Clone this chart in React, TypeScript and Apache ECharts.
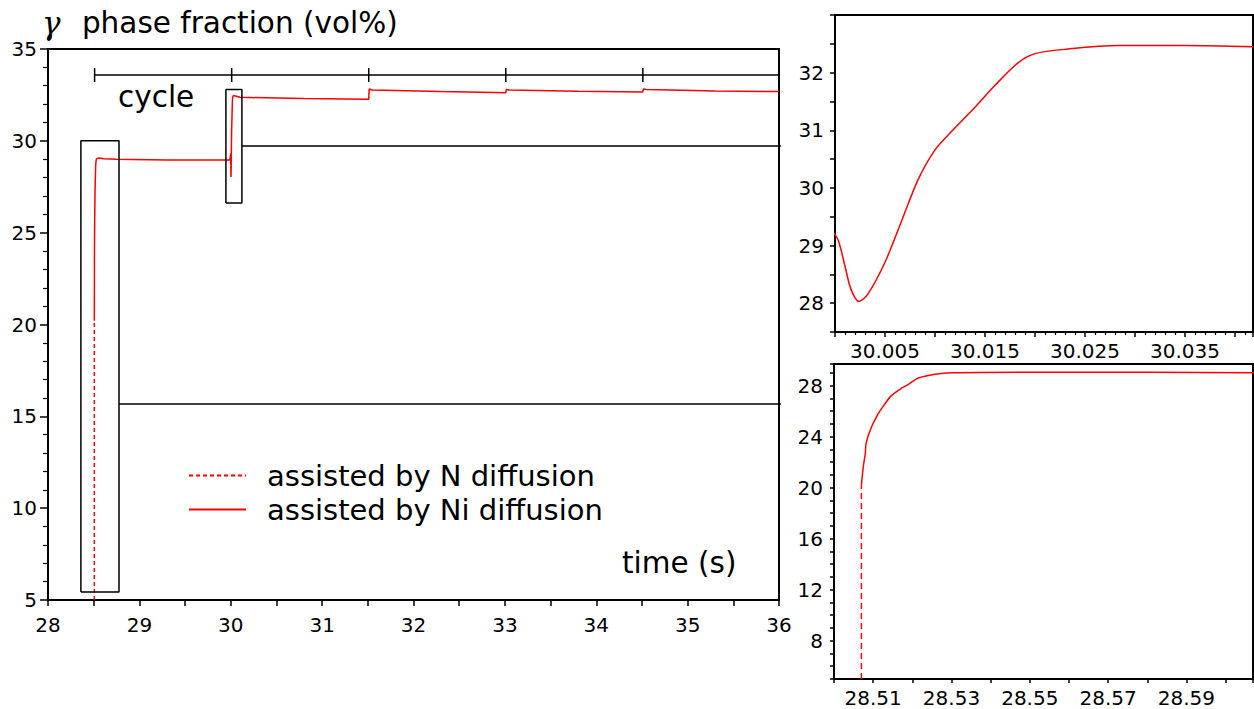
import { useEffect, useRef } from 'react';
import * as echarts from 'echarts';

// first cycle: N assisted start (dashed) then Ni assisted growth
const nStartTime = [28.507, 28.507];
const nStartValue = [5, 20.2];

const niFirstTime = [28.507, 28.5075, 28.508, 28.5082, 28.5095, 28.5113, 28.5126, 28.5146, 28.5172, 28.519, 28.5215, 28.5258, 28.53, 28.55, 28.58, 28.6066, 28.75, 29.3, 29.99];
const niFirstValue = [20.2, 21.7, 22.7, 23.5, 24.7, 25.8, 26.4, 27.2, 27.8, 28.1, 28.6, 28.9, 29.02, 29.06, 29.05, 29.02, 29.0, 28.96, 28.95];

// second cycle (zoomed in the upper inset)
const niSecondTime = [29.9995, 30.0003, 30.001, 30.0016, 30.0024, 30.0033, 30.005, 30.0066, 30.0083, 30.01, 30.0116, 30.014, 30.016, 30.0183, 30.02, 30.0233, 30.0283, 30.035, 30.0418];
const niSecondValue = [29.3, 29.1, 28.64, 28.24, 28.03, 28.16, 28.71, 29.4, 30.14, 30.66, 30.97, 31.4, 31.78, 32.17, 32.33, 32.41, 32.47, 32.47, 32.45];

// later cycles
const niLaterTime = [30.1, 30.8, 31.51, 31.515, 31.55, 32.3, 33.01, 33.015, 33.05, 33.8, 34.51, 34.515, 34.55, 35.3, 36];
const niLaterValue = [32.37, 32.3, 32.26, 32.82, 32.77, 32.68, 32.62, 32.8, 32.77, 32.7, 32.66, 32.82, 32.8, 32.72, 32.68];

// cycle scale
const cycleStarts = [28.51, 30.01, 31.51, 33.01, 34.51];
const cycleLevel = 33.58;
const cycleTickHalf = 0.38;

// zoom boxes and connector lines (main-plot data units)
const boxLeft = [28.36, 29.947];
const boxRight = [28.777, 30.122];
const boxBottom = [5.44, 26.62];
const boxTop = [30.0, 32.8];
const connectorY = [15.67, 29.72];
const connectorEnd = 36.61;

const zip = (t: number[], v: number[]) => t.map((x, i) => [x, v[i]]);

const black = '#000';
const red = '#ff0000';
const font = 'DejaVu Sans';

function axisBase(grid: number) {
  return {
    type: 'value' as const,
    gridIndex: grid,
    axisLine: { show: true, onZero: false, lineStyle: { color: black, width: 2 } },
    axisTick: { show: true, inside: false, length: 5, lineStyle: { color: black, width: 1.5 } },
    minorTick: { show: false, length: 3, lineStyle: { color: black, width: 1.2 } },
    splitLine: { show: false },
    minorSplitLine: { show: false },
    axisLabel: { color: black, fontSize: 20, fontFamily: font, margin: 10 },
  };
}

export default function App() {
  const chartRef = useRef<HTMLDivElement>(null);

  useEffect(() => {
    if (!chartRef.current) return;
    const chart = echarts.init(chartRef.current, null, { renderer: 'svg' });

    const niMain = [
      ...zip(niFirstTime, niFirstValue),
      ...zip(niSecondTime, niSecondValue),
      ...zip(niLaterTime, niLaterValue),
    ];

    const annotation = (data: number[][]) => ({
      type: 'line' as const,
      name: 'annotation',
      xAxisIndex: 0,
      yAxisIndex: 0,
      data,
      symbol: 'none',
      clip: false,
      silent: true,
      lineStyle: { color: black, width: 1.5 },
    });

    const boxes = boxLeft.map((x0, i) =>
      annotation([
        [x0, boxBottom[i]],
        [boxRight[i], boxBottom[i]],
        [boxRight[i], boxTop[i]],
        [x0, boxTop[i]],
        [x0, boxBottom[i]],
      ])
    );
    const connectors = connectorY.map((y, i) =>
      annotation([
        [boxRight[i], y],
        [connectorEnd, y],
      ])
    );
    const cycleLine = annotation([
      [cycleStarts[0], cycleLevel],
      [36, cycleLevel],
    ]);
    const cycleTicks = cycleStarts.map((x) =>
      annotation([
        [x, cycleLevel - cycleTickHalf],
        [x, cycleLevel + cycleTickHalf],
      ])
    );

    const gridBox = { show: true, borderColor: black, borderWidth: 2, outerBoundsMode: 'none' };

    const option: echarts.EChartsOption = {
      animation: false,
      backgroundColor: '#fff',
      textStyle: { fontFamily: font, color: black },
      title: {
        text: '{g|γ} phase fraction (vol%)',
        left: 37,
        top: 2,
        textStyle: {
          fontSize: 29.5,
          fontWeight: 'normal',
          color: black,
          fontFamily: font,
          rich: {
            g: { fontSize: 31, fontStyle: 'italic', fontFamily: 'DejaVu Serif', color: black, padding: [0, 12, 0, 0] },
          },
        },
      },
      grid: [
        { left: 48, top: 49, width: 731, height: 551, ...gridBox },
        { left: 835, top: 15, width: 418, height: 317, ...gridBox },
        { left: 834, top: 364, width: 419, height: 315, ...gridBox },
      ] as any,
      legend: {
        data: ['assisted by N diffusion', 'assisted by Ni diffusion'],
        orient: 'vertical',
        left: 183,
        top: 456,
        itemWidth: 57,
        itemHeight: 14,
        itemGap: 5,
        itemStyle: { opacity: 0 },
        textStyle: { fontSize: 29, color: black, fontFamily: font, padding: [0, 0, 0, 16] },
      },
      xAxis: [
        {
          ...axisBase(0),
          min: 28,
          max: 36,
          interval: 1,
          axisTick: { show: true, length: 6, lineStyle: { color: black, width: 1.5 } },
          minorTick: { show: true, splitNumber: 2, length: 6, lineStyle: { color: black, width: 1.5 } },
          axisLabel: { color: black, fontSize: 20, fontFamily: font, margin: 15 },
        },
        {
          ...axisBase(1),
          min: 30,
          max: 30.0418,
          interval: 0.005,
          minorTick: { show: true, splitNumber: 5, length: 3, lineStyle: { color: black, width: 1.2 } },
          axisLabel: {
            color: black,
            fontSize: 20,
            fontFamily: font,
            margin: 9,
            formatter: (v: number) => {
              const k = Math.round((v - 30) * 1000);
              return k % 10 === 5 && v < 30.04 ? v.toFixed(3) : '';
            },
          },
        },
        {
          ...axisBase(2),
          min: 28.5,
          max: 28.607,
          interval: 0.01,
          axisTick: { show: true, length: 4, lineStyle: { color: black, width: 1.5 } },
          axisLabel: {
            color: black,
            fontSize: 20,
            fontFamily: font,
            margin: 9,
            formatter: (v: number) => {
              const k = Math.round((v - 28.5) * 100);
              return k % 2 === 1 && v < 28.6 ? v.toFixed(2) : '';
            },
          },
        },
      ],
      yAxis: [
        {
          ...axisBase(0),
          min: 5,
          max: 35,
          interval: 5,
          axisTick: { show: true, length: 8, lineStyle: { color: black, width: 1.5 } },
          minorTick: { show: true, splitNumber: 5, length: 5, lineStyle: { color: black, width: 1.2 } },
          axisLabel: { color: black, fontSize: 20, fontFamily: font, margin: 11 },
        },
        {
          ...axisBase(1),
          min: 27.5,
          max: 33,
          interval: 0.5,
          axisLabel: {
            color: black,
            fontSize: 20,
            fontFamily: font,
            margin: 11,
            formatter: (v: number) => (Number.isInteger(v) && v <= 32 ? String(v) : ''),
          },
        },
        {
          ...axisBase(2),
          min: 5,
          max: 29.7,
          interval: 1,
          axisTick: { show: true, length: 4, lineStyle: { color: black, width: 1.5 } },
          axisLabel: {
            color: black,
            fontSize: 20,
            fontFamily: font,
            margin: 11,
            formatter: (v: number) => (Number.isInteger(v) && v % 4 === 0 ? String(v) : ''),
          },
        },
      ],
      graphic: [
        { type: 'text', left: 118, top: 82, style: { text: 'cycle', fontSize: 29.5, fontFamily: font, fill: black } },
        { type: 'text', left: 622, top: 548, style: { text: 'time (s)', fontSize: 29.5, fontFamily: font, fill: black } },
      ],
      series: [
        {
          type: 'line',
          name: 'assisted by N diffusion',
          xAxisIndex: 0,
          yAxisIndex: 0,
          data: zip(nStartTime, nStartValue),
          symbol: 'none',
          lineStyle: { color: red, width: 1.5, type: [4, 3] },
          itemStyle: { color: red },
        },
        {
          type: 'line',
          name: 'assisted by Ni diffusion',
          xAxisIndex: 0,
          yAxisIndex: 0,
          data: niMain,
          symbol: 'none',
          lineStyle: { color: red, width: 1.5 },
          itemStyle: { color: red },
        },
        {
          type: 'line',
          name: 'assisted by Ni diffusion',
          xAxisIndex: 1,
          yAxisIndex: 1,
          data: zip(niSecondTime, niSecondValue),
          symbol: 'none',
          smooth: 0.3,
          lineStyle: { color: red, width: 1.5 },
          itemStyle: { color: red },
        },
        {
          type: 'line',
          name: 'assisted by N diffusion',
          xAxisIndex: 2,
          yAxisIndex: 2,
          data: zip(nStartTime, nStartValue),
          symbol: 'none',
          lineStyle: { color: red, width: 1.5, type: [6, 4] },
          itemStyle: { color: red },
        },
        {
          type: 'line',
          name: 'assisted by Ni diffusion',
          xAxisIndex: 2,
          yAxisIndex: 2,
          data: zip(niFirstTime, niFirstValue),
          symbol: 'none',
          smooth: 0.3,
          lineStyle: { color: red, width: 1.5 },
          itemStyle: { color: red },
        },
        ...boxes,
        ...connectors,
        cycleLine,
        ...cycleTicks,
      ],
    };

    chart.setOption(option);

    return () => {
      chart.dispose();
    };
  }, []);

  return (
    <div
      ref={chartRef}
      style={{ position: 'fixed', left: 0, top: 0, width: 1254, height: 709 }}
    />
  );
}
